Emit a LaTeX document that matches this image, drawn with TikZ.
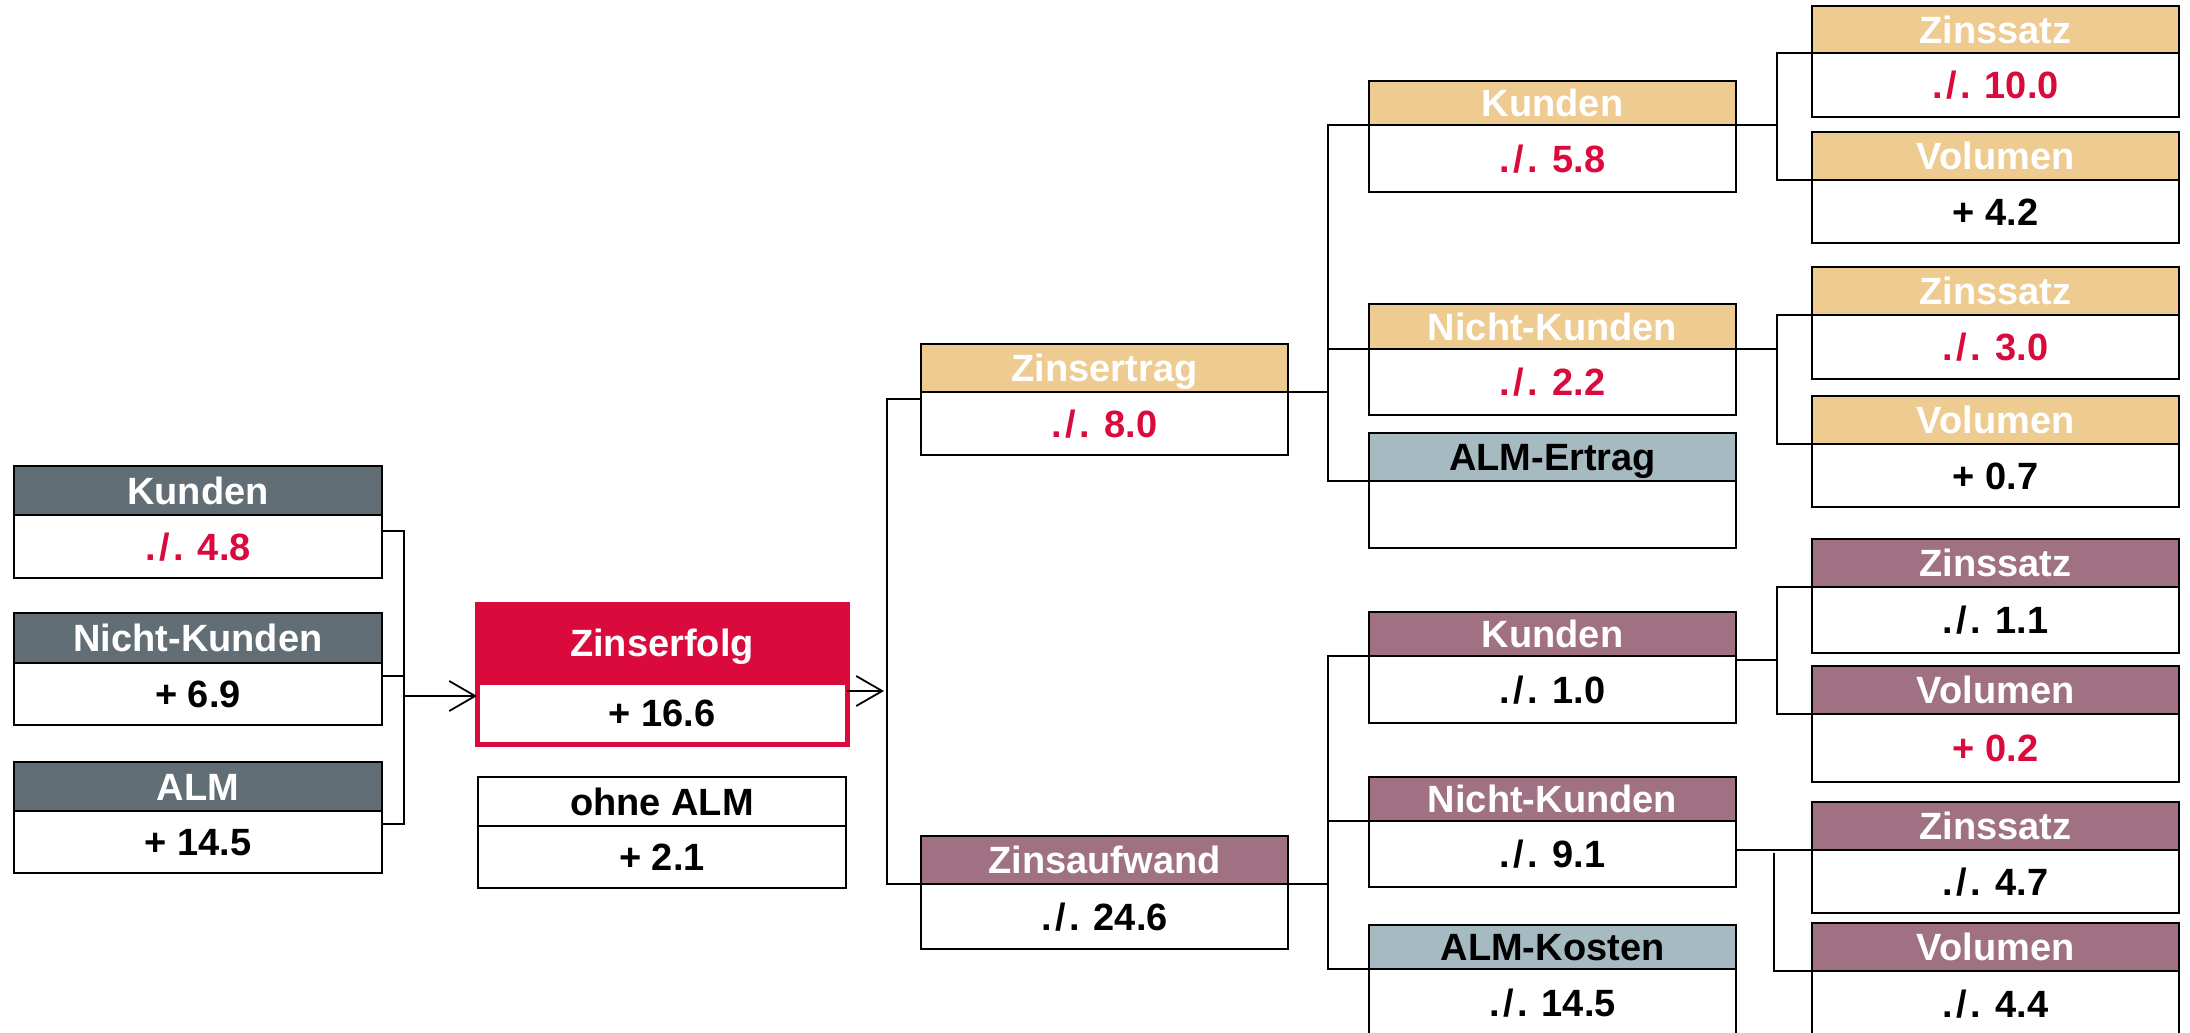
\documentclass[tikz,border=0pt]{standalone}
\usepackage{fontspec}
\setmainfont{Liberation Sans}
\usetikzlibrary{arrows.meta,calc}
\definecolor{cGry}{HTML}{626E75}
\definecolor{cYel}{HTML}{EDCB91}
\definecolor{cPur}{HTML}{A07083}
\definecolor{cBlu}{HTML}{A6BBC1}
\definecolor{cRed}{HTML}{DA0A3C}
\newcommand\rd[1]{\textcolor{cRed}{#1}}
\newcommand\mns{.\kern0.09em/\kern0.09em.}
% #1 name, #2 x1, #3 x2, #4 ytop, #5 ydiv, #6 ybot, #7 header style, #8 header text, #9 body text
\newcommand\tb[9]{%
  \node[hd,#7,minimum width={(#3-#2)*0.5pt},minimum height={(#5-#4)*0.5pt}] (#1h) at ({(#2+#3)/2},{(#4+#5)/2}) {#8};
  \node[bd,minimum width={(#3-#2)*0.5pt},minimum height={(#6-#5)*0.5pt}] (#1b) at ({(#2+#3)/2},{(#5+#6)/2}) {#9};}
\tikzset{
  box/.style={draw=black,line width=1pt,inner sep=0pt,outer sep=0pt,
    font=\bfseries\fontsize{19}{22}\selectfont,text height=13.6pt,text depth=0pt},
  hd/.style={box,text=white},
  bd/.style={box,fill=white,text=black},
  yel/.style={fill=cYel},
  pur/.style={fill=cPur},
  gry/.style={fill=cGry},
  blu/.style={fill=cBlu,text=black},
  wht/.style={fill=white,text=black},
  conn/.style={draw=black,line width=0.85pt},
  arr/.style={conn,-{Straight Barb[length=13pt,width=15pt,line width=0.9pt]}},
}
\begin{document}
\begin{tikzpicture}[x=0.5pt,y=-0.5pt]
\useasboundingbox (0,0) rectangle (2190,1033);
\clip (0,0) rectangle (2190,1033);
% left column
\tb{La}{14}{382}{466}{515}{578}{gry}{Kunden}{\rd{\mns{} 4.8}}
\tb{Lb}{14}{382}{613}{663}{725}{gry}{Nicht-Kunden}{+ 6.9}
\tb{Lc}{14}{382}{762}{811}{873}{gry}{ALM}{+ 14.5}
% Zinserfolg
\node[box,fill=cRed,draw=cRed,line width=2.5pt,text=white,minimum width={(847-477)*0.5pt},minimum height={(682-604)*0.5pt}] (Zh) at ({(477+847)/2},{(604+682)/2}) {Zinserfolg};
\node[box,fill=white,draw=cRed,line width=2.5pt,minimum width={(847-477)*0.5pt},minimum height={(744-682)*0.5pt}] (Zb) at ({(477+847)/2},{(682+744)/2}) {+ 16.6};
\tb{O}{478}{846}{777}{826}{888}{wht}{ohne ALM}{+ 2.1}
% level 1
\tb{E}{921}{1288}{344}{392}{455}{yel}{Zinsertrag}{\rd{\mns{} 8.0}}
\tb{A}{921}{1288}{836}{884}{949}{pur}{Zinsaufwand}{\mns{} 24.6}
% level 2
\tb{EK}{1369}{1736}{81}{125}{192}{yel}{Kunden}{\rd{\mns{} 5.8}}
\tb{EN}{1369}{1736}{304}{349}{415}{yel}{Nicht-Kunden}{\rd{\mns{} 2.2}}
\tb{EA}{1369}{1736}{433}{481}{548}{blu}{ALM-Ertrag}{}
\tb{AK}{1369}{1736}{612}{656}{723}{pur}{Kunden}{\mns{} 1.0}
\tb{AN}{1369}{1736}{777}{821}{887}{pur}{Nicht-Kunden}{\mns{} 9.1}
\tb{AA}{1369}{1736}{925}{969}{1036}{blu}{ALM-Kosten}{\mns{} 14.5}
% level 3
\tb{EKa}{1812}{2179}{6}{53}{117}{yel}{Zinssatz}{\rd{\mns{} 10.0}}
\tb{EKb}{1812}{2179}{132}{180}{243}{yel}{Volumen}{+ 4.2}
\tb{ENa}{1812}{2179}{267}{315}{379}{yel}{Zinssatz}{\rd{\mns{} 3.0}}
\tb{ENb}{1812}{2179}{396}{444}{507}{yel}{Volumen}{+ 0.7}
\tb{AKa}{1812}{2179}{539}{587}{653}{pur}{Zinssatz}{\mns{} 1.1}
\tb{AKb}{1812}{2179}{666}{714}{782}{pur}{Volumen}{\rd{+ 0.2}}
\tb{ANa}{1812}{2179}{802}{850}{913}{pur}{Zinssatz}{\mns{} 4.7}
\tb{ANb}{1812}{2179}{923}{971}{1036}{pur}{Volumen}{\mns{} 4.4}
% connectors: left bracket
\coordinate (bL) at ($(Lab.north east)+(22,0)$);
\coordinate (zin) at ($(Zb.north west)+(0,14)$);
\draw[conn] ($(Lab.north east)+(0,16)$) -- ($(Lab.north east)+(22,16)$) |- ($(Lcb.north east)+(0,13)$);
\draw[conn] ($(Lbb.north east)+(0,13)$) -- ++(22,0);
\draw[arr] (bL |- zin) -- (zin);
% Zinserfolg to level 1
\coordinate (bZ) at ($(Zb.north east)+(40,0)$);
\draw[arr] ($(Zb.north east)+(0,9)$) -- ($(Zb.north east)+(37,9)$);
\draw[conn] ($(Eb.north west)+(0,7)$) -| (bZ |- Ab.north west) -- (Ab.north west);
% Zinsertrag bracket
\draw[conn] (Eb.north east) -- ++(40,0);
\draw[conn] (EKb.north west) -- ++(-41,0) |- (EAb.north west);
\draw[conn] (ENb.north west) -- ++(-41,0);
% Zinsaufwand bracket
\draw[conn] (Ab.north east) -- ++(40,0);
\draw[conn] (AKb.north west) -- ++(-41,0) |- (AAb.north west);
\draw[conn] (ANb.north west) -- ++(-41,0);
% level 3 brackets
\draw[conn] (EKb.north east) -- ++(41,0);
\draw[conn] (EKab.north west) -- ++(-35,0) |- (EKbb.north west);
\draw[conn] (ENb.north east) -- ++(41,0);
\draw[conn] (ENab.north west) -- ++(-35,0) |- (ENbb.north west);
\draw[conn] ($(AKb.north east)+(0,4)$) -- ++(41,0);
\draw[conn] (AKab.north west) -- ++(-35,0) |- (AKbb.north west);
\draw[conn] (ANb.east |- ANab.north west) -- ($(ANab.north west)+(13,0)$);
\draw[conn] ($(ANab.north west)+(-38,3)$) |- (ANbb.north west);
\end{tikzpicture}
\end{document}
